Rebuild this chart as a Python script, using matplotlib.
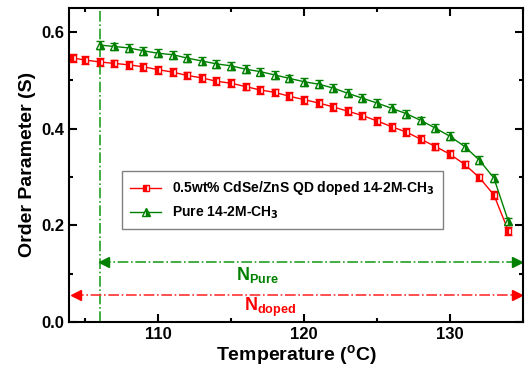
import matplotlib
matplotlib.use('Agg')
import matplotlib.pyplot as plt
from matplotlib.ticker import MultipleLocator

plt.rcParams['font.family'] = ['Liberation Sans', 'DejaVu Sans']
plt.rcParams['font.weight'] = 'bold'
plt.rcParams['axes.labelweight'] = 'bold'
plt.rcParams['mathtext.default'] = 'bf'

# doped sample
t_doped = [104.2, 105, 106, 107, 108, 109, 110, 111, 112, 113, 114, 115, 116, 117, 118, 119,
           120, 121, 122, 123, 124, 125, 126, 127, 128, 129, 130, 131, 132, 133, 134]
s_doped = [0.546, 0.542, 0.538, 0.535, 0.532, 0.528, 0.522, 0.517, 0.510, 0.505, 0.498, 0.494,
           0.487, 0.480, 0.475, 0.467, 0.460, 0.453, 0.445, 0.436, 0.427, 0.416, 0.404, 0.393,
           0.378, 0.363, 0.347, 0.326, 0.299, 0.263, 0.188]

# pure sample
t_pure = [106, 107, 108, 109, 110, 111, 112, 113, 114, 115, 116, 117, 118, 119, 120, 121,
          122, 123, 124, 125, 126, 127, 128, 129, 130, 131, 132, 133, 134]
s_pure = [0.573, 0.570, 0.567, 0.561, 0.556, 0.553, 0.546, 0.540, 0.534, 0.530, 0.523, 0.518,
          0.511, 0.504, 0.497, 0.492, 0.484, 0.473, 0.463, 0.453, 0.442, 0.431, 0.417, 0.401,
          0.384, 0.363, 0.335, 0.298, 0.208]

err = 0.008

fig = plt.figure(figsize=(5.31, 3.73), dpi=100)
ax = fig.add_axes([0.130, 0.137, 0.855, 0.842])

ax.errorbar(t_doped, s_doped, yerr=err, color='red', lw=1, marker='s', ms=5,
            fillstyle='left', markerfacecoloralt='white', mec='red',
            capsize=3, elinewidth=1, capthick=1)
ax.errorbar(t_pure, s_pure, yerr=err, color='#008000', lw=1, marker='^', ms=6,
            fillstyle='right', markerfacecoloralt='white', mec='#008000',
            capsize=3, elinewidth=1, capthick=1)
# legend handles without error bars
h1, = ax.plot([], [], color='red', lw=1, marker='s', ms=5, fillstyle='left',
              markerfacecoloralt='white', mec='red')
h2, = ax.plot([], [], color='#008000', lw=1, marker='^', ms=6, fillstyle='right',
              markerfacecoloralt='white', mec='#008000')

# N ranges
ax.axvline(106, color='#22a022', ls='-.', lw=1.2)
ax.plot([106, 134.6], [0.124, 0.124], color='#22a022', ls='-.', lw=1.2)
ax.plot([106.3], [0.124], color='#008000', marker='<', ms=7, ls='none')
ax.plot([134.6], [0.124], color='#008000', marker='>', ms=7, ls='none')
ax.plot([104.2, 134.6], [0.056, 0.056], color='#ff3030', ls='-.', lw=1.2)
ax.plot([104.4], [0.056], color='red', marker='<', ms=7, ls='none')
ax.plot([134.6], [0.056], color='red', marker='>', ms=7, ls='none')
ax.text(116.8, 0.097, r'N$_{\mathregular{Pure}}$', color='#008000', fontsize=13,
        ha='center', va='center')
ax.text(117.7, 0.029, r'N$_{\mathregular{doped}}$', color='red', fontsize=13,
        ha='center', va='center')

ax.set_xlim(103.9, 135)
ax.set_ylim(0, 0.65)
ax.xaxis.set_major_locator(MultipleLocator(10))
ax.xaxis.set_minor_locator(MultipleLocator(5))
ax.yaxis.set_major_locator(MultipleLocator(0.2))
ax.yaxis.set_minor_locator(MultipleLocator(0.1))
ax.tick_params(which='both', direction='in', top=True, right=True, width=1.5, labelsize=12)
ax.tick_params(which='major', length=6)
ax.tick_params(which='minor', length=3)
for lab in ax.get_xticklabels() + ax.get_yticklabels():
    lab.set_fontweight('bold')
for sp in ax.spines.values():
    sp.set_linewidth(1.5)

ax.set_xlabel('Temperature ($^\\mathregular{o}$C)', fontsize=14, labelpad=1)
ax.set_ylabel('Order Parameter (S)', fontsize=14)

leg = ax.legend([h1, h2], ['0.5wt% CdSe/ZnS QD doped 14-2M-CH$_3$', 'Pure 14-2M-CH$_3$'],
                loc='upper left', bbox_to_anchor=(0.117, 0.48), borderaxespad=0,
                fontsize=10, fancybox=False, edgecolor='gray', framealpha=1,
                borderpad=0.6, handlelength=2.2)
leg.get_frame().set_linewidth(1)

fig.savefig('out.png', dpi=100)
